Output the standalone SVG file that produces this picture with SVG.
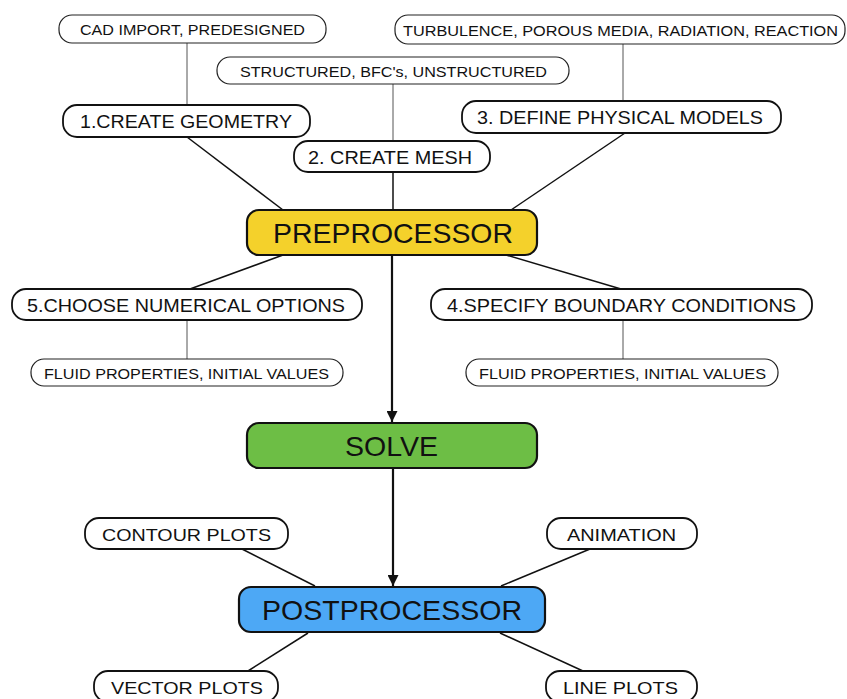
<svg xmlns="http://www.w3.org/2000/svg" width="847" height="699" viewBox="0 0 847 699">
<defs>
<style>
.sub rect{fill:#fff;stroke:#222;stroke-width:1.2}
.step rect{fill:#fff;stroke:#111;stroke-width:1.8}
.main rect{stroke:#111;stroke-width:2.2}
text{font-family:"Liberation Sans",Arial,sans-serif;fill:#111;text-anchor:middle}
.sub text{font-size:15px}
.step text{font-size:18px}
.main text{font-size:28px}
.thin{stroke:#555;stroke-width:1;fill:none}
.link{stroke:#111;stroke-width:1.5;fill:none}
.arrow{stroke:#111;stroke-width:2.2;fill:none;marker-end:url(#ah)}
</style>
<marker id="ah" viewBox="0 0 10 10" refX="10" refY="5" markerWidth="5" markerHeight="5" markerUnits="strokeWidth" orient="auto">
<path d="M0,0 L10,5 L0,10 Z" fill="#111"/>
</marker>
</defs>
<rect width="847" height="699" fill="#fff"/>
<g id="connectors">
<line class="thin" x1="187" y1="43" x2="187" y2="105"/>
<line class="thin" x1="393" y1="84" x2="393" y2="141"/>
<line class="thin" x1="623" y1="44" x2="623" y2="101"/>
<line class="link" x1="187" y1="137" x2="283" y2="210"/>
<line class="link" x1="393" y1="172" x2="393" y2="210"/>
<line class="link" x1="625" y1="133" x2="511" y2="210"/>
<line class="link" x1="283" y1="255" x2="190" y2="289"/>
<line class="link" x1="506" y1="255" x2="621" y2="289"/>
<line class="thin" x1="187" y1="320" x2="187" y2="359"/>
<line class="thin" x1="623" y1="320" x2="623" y2="359"/>
<line class="arrow" x1="392" y1="255" x2="392" y2="422"/>
<line class="arrow" x1="393" y1="468" x2="393" y2="586"/>
<line class="link" x1="242" y1="549" x2="315" y2="586"/>
<line class="link" x1="590" y1="549" x2="501" y2="586"/>
<line class="link" x1="308" y1="633" x2="248" y2="671"/>
<line class="link" x1="500" y1="633" x2="583" y2="671"/>
</g>
<g id="cad" class="sub"><rect x="59" y="15" width="267" height="28" rx="13"/><text x="192.5" y="35" textLength="225" lengthAdjust="spacingAndGlyphs">CAD IMPORT, PREDESIGNED</text></g>
<g id="turb" class="sub"><rect x="395" y="15" width="450" height="29" rx="13"/><text x="620.5" y="35.5" textLength="435" lengthAdjust="spacingAndGlyphs">TURBULENCE, POROUS MEDIA, RADIATION, REACTION</text></g>
<g id="struct" class="sub"><rect x="217" y="57" width="352" height="27" rx="13"/><text x="393.5" y="76.5" textLength="307" lengthAdjust="spacingAndGlyphs">STRUCTURED, BFC's, UNSTRUCTURED</text></g>
<g id="geom" class="step"><rect x="63" y="105" width="247" height="32" rx="14"/><text x="186" y="128" textLength="212" lengthAdjust="spacingAndGlyphs">1.CREATE GEOMETRY</text></g>
<g id="mesh" class="step"><rect x="294" y="141" width="196" height="31" rx="14"/><text x="390" y="163.5" textLength="164" lengthAdjust="spacingAndGlyphs">2. CREATE MESH</text></g>
<g id="phys" class="step"><rect x="462" y="101" width="319" height="32" rx="14"/><text x="620" y="124" textLength="286" lengthAdjust="spacingAndGlyphs">3. DEFINE PHYSICAL MODELS</text></g>
<g id="pre" class="main"><rect x="247" y="210" width="290" height="45" rx="12" fill="#F4D12B"/><text x="393" y="243" textLength="240" lengthAdjust="spacingAndGlyphs">PREPROCESSOR</text></g>
<g id="numopt" class="step"><rect x="12" y="289" width="350" height="31" rx="14"/><text x="186" y="311.5" textLength="318" lengthAdjust="spacingAndGlyphs">5.CHOOSE NUMERICAL OPTIONS</text></g>
<g id="bc" class="step"><rect x="431" y="289" width="381" height="31" rx="14"/><text x="621.5" y="311.5" textLength="349" lengthAdjust="spacingAndGlyphs">4.SPECIFY BOUNDARY CONDITIONS</text></g>
<g id="fluidL" class="sub"><rect x="31" y="359" width="312" height="27" rx="13"/><text x="186.5" y="379" textLength="285" lengthAdjust="spacingAndGlyphs">FLUID PROPERTIES, INITIAL VALUES</text></g>
<g id="fluidR" class="sub"><rect x="466" y="359" width="312" height="27" rx="13"/><text x="622.5" y="379" textLength="287" lengthAdjust="spacingAndGlyphs">FLUID PROPERTIES, INITIAL VALUES</text></g>
<g id="solve" class="main"><rect x="247" y="423" width="290" height="45" rx="12" fill="#6DBE45"/><text x="391.5" y="456" textLength="93" lengthAdjust="spacingAndGlyphs">SOLVE</text></g>
<g id="post" class="main"><rect x="239" y="587" width="306" height="45" rx="12" fill="#4DA8F5"/><text x="392" y="620" textLength="260" lengthAdjust="spacingAndGlyphs">POSTPROCESSOR</text></g>
<g id="contour" class="step"><rect x="85" y="518" width="203" height="31" rx="14"/><text x="186.5" y="541" font-size="17" style="font-size:17px" textLength="169" lengthAdjust="spacingAndGlyphs">CONTOUR PLOTS</text></g>
<g id="anim" class="step"><rect x="547" y="518" width="150" height="31" rx="14"/><text x="621.5" y="541" style="font-size:17px" textLength="109" lengthAdjust="spacingAndGlyphs">ANIMATION</text></g>
<g id="vector" class="step"><rect x="94" y="671" width="184" height="31" rx="14"/><text x="187" y="694" style="font-size:17px" textLength="152" lengthAdjust="spacingAndGlyphs">VECTOR PLOTS</text></g>
<g id="lineplots" class="step"><rect x="546" y="671" width="151" height="31" rx="14"/><text x="620.5" y="694" style="font-size:17px" textLength="115" lengthAdjust="spacingAndGlyphs">LINE PLOTS</text></g>
</svg>
